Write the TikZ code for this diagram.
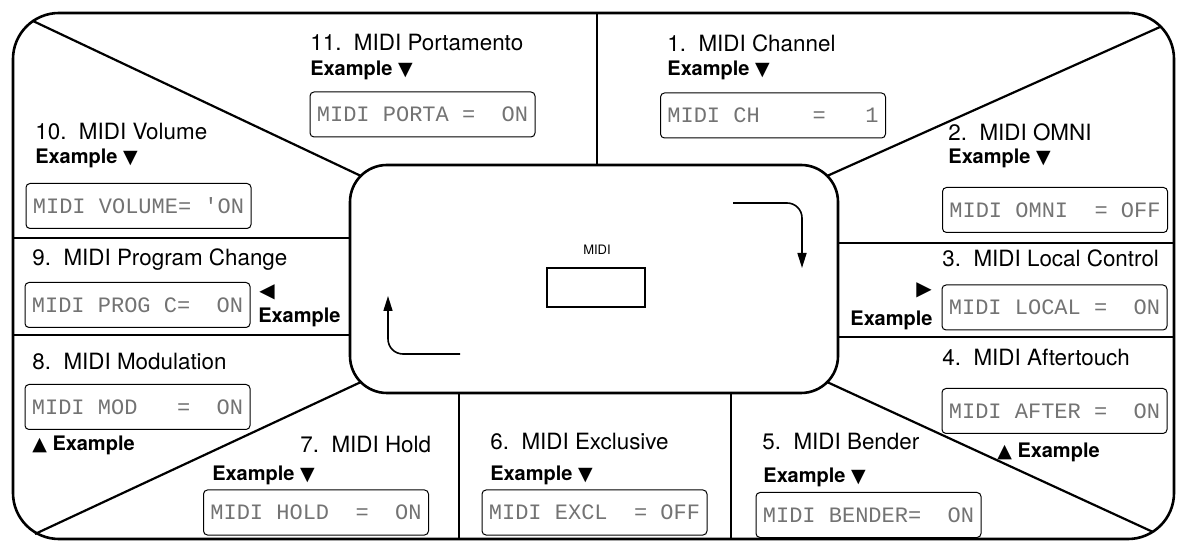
\documentclass[tikz,border=0pt]{standalone}
\usepackage{fontspec}
\setmainfont{TeX Gyre Heros}
\setmonofont{Liberation Mono}
\newfontfamily\symfont{DejaVu Sans}
\usetikzlibrary{arrows.meta}

\newcommand{\down}{{\symfont\fontsize{9.5}{9}\selectfont ▼}}
\newcommand{\up}{{\symfont\fontsize{9.5}{9}\selectfont ▲}}

\begin{document}
\begin{tikzpicture}[x=0.5pt, y=-0.5pt, >={Triangle[length=7.5pt,width=4.5pt]},
    frame/.style={line width=1.3pt},
    divider/.style={line width=1.1pt},
    title/.style={anchor=west, inner sep=0pt, font=\fontsize{11.2}{12}\selectfont},
    example/.style={anchor=west, inner sep=0pt, font=\fontsize{10}{12}\selectfont\bfseries},
    lcd/.style={draw, line width=0.5pt, rounded corners=2pt, minimum width=112.5pt, minimum height=22.5pt,
        inner sep=0pt, text=black!55, font=\fontsize{11}{12}\selectfont\ttfamily}]
        \useasboundingbox (0,0) rectangle (1177,544);

        \coordinate (oTL) at (33,21);   \coordinate (cTL) at (361,176);
        \coordinate (oTR) at (1160,27); \coordinate (cTR) at (827,176);
        \coordinate (oBL) at (35,534);  \coordinate (cBL) at (361,382);
        \coordinate (oBR) at (1153,532); \coordinate (cBR) at (827,382);

        \draw[frame, rounded corners=23pt] (13,13) rectangle (1174,539);

        \draw[divider] (oTL) -- (cTL);
        \draw[divider] (oTR) -- (cTR);
        \draw[divider] (oBL) -- (cBL);
        \draw[divider] (oBR) -- (cBR);
        \draw[divider] (597,13) -- (597,165);
        \draw[divider] (13,238) -- (350,238);
        \draw[divider] (13,335) -- (350,335);
        \draw[divider] (838,243) -- (1174,243);
        \draw[divider] (838,337) -- (1174,337);
        \draw[divider] (459,393) -- (459,539);
        \draw[divider] (731,393) -- (731,539);

        \draw[frame, rounded corners=18.5pt, fill=white] (350,165) rectangle (838,393);

        \node[draw, line width=1.3pt, minimum width=49pt, minimum height=19.5pt] (disp) at (596,287.5) {};
        \node[inner sep=0pt, font=\fontsize{6.5}{7}\selectfont] (midi) at (597,250) {MIDI};

        \coordinate (rotA) at (733,203); \coordinate (rotB) at (802,268);
        \draw[->, line width=0.8pt, rounded corners=7.5pt] (rotA) -| (rotB);
        \coordinate (rotC) at (460,354); \coordinate (rotD) at (388,296);
        \draw[->, line width=0.8pt, rounded corners=7.5pt] (rotC) -| (rotD);

        \node[title] (t11) at (310,43) {11.~~MIDI Portamento};
        \node[example] (ex11) at (310,70) {Example \down};
        \node[lcd] (lcd11) at (422.5,114.5) {MIDI~PORTA~=~~ON};

        \node[title] (t1) at (667,43) {1.~~MIDI Channel};
        \node[example] (ex1) at (667,70) {Example \down};
        \node[lcd] (lcd1) at (773,115.5) {MIDI~CH~~~~=~~~1};

        \node[title] (t2) at (948,132) {2.~~MIDI OMNI};
        \node[example] (ex2) at (948,158) {Example \down};
        \node[lcd] (lcd2) at (1055,210) {MIDI~OMNI~~=~OFF};

        \node[title] (t3) at (942,258) {3.~~MIDI Local Control};
        \node[inner sep=0pt] (arr3) at (924,290) {\symfont\fontsize{10}{10}\selectfont ▶};
        \node[example, anchor=east] (ex3) at (933,320) {Example};
        \node[lcd] (lcd3) at (1054.5,307.5) {MIDI~LOCAL~=~~ON};

        \node[title] (t4) at (942,357) {4.~~MIDI Aftertouch};
        \node[lcd] (lcd4) at (1054.5,411) {MIDI~AFTER~=~~ON};
        \node[example] (ex4) at (997,452) {\up\ Example};

        \node[title] (t5) at (762,442) {5.~~MIDI Bender};
        \node[example] (ex5) at (763,477) {Example \down};
        \node[lcd] (lcd5) at (868.5,515) {MIDI~BENDER=~~ON};

        \node[title] (t6) at (490,442) {6.~~MIDI Exclusive};
        \node[example] (ex6) at (490,475) {Example \down};
        \node[lcd] (lcd6) at (594.5,512.5) {MIDI~EXCL~~=~OFF};

        \node[title] (t7) at (300,445) {7.~~MIDI Hold};
        \node[example] (ex7) at (212,475) {Example \down};
        \node[lcd] (lcd7) at (316,512.5) {MIDI~HOLD~~=~~ON};

        \node[title] (t8) at (32,362) {8.~~MIDI Modulation};
        \node[lcd] (lcd8) at (137.5,407) {MIDI~MOD~~~=~~ON};
        \node[example] (ex8) at (32,445) {\up\ Example};

        \node[title] (t9) at (32,260) {9.~~MIDI Program Change};
        \node[lcd] (lcd9) at (137.5,305) {MIDI~PROG~C=~~ON};
        \node[inner sep=0pt] (arr9) at (267,292) {\symfont\fontsize{10}{10}\selectfont ◀};
        \node[example] (ex9) at (258,317) {Example};

        \node[title] (t10) at (35,132) {10.~~MIDI Volume};
        \node[example] (ex10) at (35,158) {Example \down};
        \node[lcd] (lcd10) at (138.5,206) {MIDI~VOLUME=~'ON};
    \end{tikzpicture}
\end{document}
